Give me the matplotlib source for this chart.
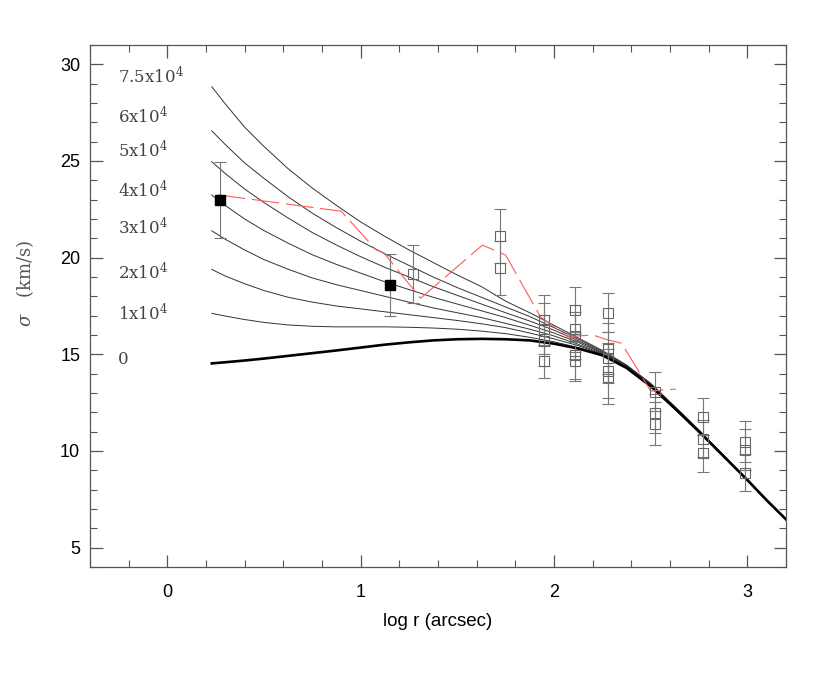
import numpy as np
import matplotlib
matplotlib.use("Agg")
import matplotlib.pyplot as plt
from matplotlib.ticker import MultipleLocator

# model curves
model_x = [0.23, 0.3, 0.4, 0.5, 0.625, 0.75, 0.875, 1.0, 1.125, 1.25, 1.375, 1.5, 1.625,
           1.75, 1.875, 2.0, 2.125, 2.25, 2.375, 2.5, 2.625, 2.75, 2.875, 3.0, 3.1, 3.2]
model_labels = ["7.5x10$^4$", "6x10$^4$", "5x10$^4$", "4x10$^4$",
                "3x10$^4$", "2x10$^4$", "1x10$^4$", "0"]
sig_75e4 = [28.84, 27.95, 26.75, 25.75, 24.6, 23.6, 22.7, 21.85, 21.1, 20.4, 19.75, 19.1, 18.5,
            17.75, 17.15, 16.5, 15.85, 15.2, 14.45, 13.5, 12.3, 11.08, 9.8, 8.52, 7.47, 6.48]
sig_6e4 = [26.56, 25.85, 24.9, 24.1, 23.15, 22.3, 21.55, 20.85, 20.2, 19.6, 19.0, 18.45, 17.95,
           17.45, 16.95, 16.38, 15.78, 15.15, 14.42, 13.48, 12.28, 11.07, 9.79, 8.52, 7.47, 6.48]
sig_5e4 = [24.96, 24.35, 23.55, 22.85, 22.05, 21.3, 20.65, 20.05, 19.5, 19.0, 18.5, 18.05, 17.6,
           17.15, 16.72, 16.25, 15.7, 15.1, 14.4, 13.45, 12.26, 11.06, 9.78, 8.51, 7.46, 6.47]
sig_4e4 = [23.24, 22.7, 22.0, 21.4, 20.75, 20.15, 19.65, 19.2, 18.75, 18.35, 17.95, 17.6, 17.25,
           16.9, 16.5, 16.1, 15.62, 15.07, 14.38, 13.42, 12.25, 11.05, 9.78, 8.51, 7.46, 6.47]
sig_3e4 = [21.39, 20.95, 20.4, 19.9, 19.4, 18.95, 18.6, 18.3, 18.0, 17.7, 17.4, 17.15, 16.9,
           16.6, 16.3, 15.95, 15.52, 15.03, 14.36, 13.4, 12.24, 11.04, 9.77, 8.51, 7.46, 6.47]
sig_2e4 = [19.39, 19.05, 18.65, 18.3, 17.95, 17.7, 17.5, 17.35, 17.2, 17.05, 16.9, 16.75, 16.58,
           16.38, 16.1, 15.8, 15.45, 15.0, 14.34, 13.38, 12.22, 11.02, 9.76, 8.5, 7.45, 6.46]
sig_1e4 = [17.12, 16.98, 16.8, 16.65, 16.52, 16.45, 16.42, 16.42, 16.42, 16.4, 16.36, 16.3, 16.2,
           16.07, 15.88, 15.65, 15.35, 14.97, 14.32, 13.37, 12.21, 11.01, 9.75, 8.5, 7.45, 6.46]
sig_0 = [14.53, 14.59, 14.68, 14.78, 14.92, 15.06, 15.2, 15.35, 15.5, 15.62, 15.72, 15.78, 15.8,
         15.78, 15.72, 15.55, 15.3, 14.95, 14.3, 13.35, 12.2, 11.0, 9.75, 8.5, 7.45, 6.46]
model_sigma = [sig_75e4, sig_6e4, sig_5e4, sig_4e4, sig_3e4, sig_2e4, sig_1e4, sig_0]
label_y = [29.02, 26.98, 25.19, 23.15, 21.2, 18.88, 16.77, 14.5]

# filled points
fill_x = [0.27, 1.15]
fill_y = [22.98, 18.58]
fill_err = [1.97, 1.6]

# open points
open_x = [1.27, 1.72, 1.72,
          1.95, 1.95, 1.95, 1.95,
          2.11, 2.11, 2.11, 2.11, 2.11,
          2.28, 2.28, 2.28, 2.28, 2.28,
          2.52, 2.52, 2.52,
          2.77, 2.77, 2.77,
          2.99, 2.99, 2.99]
open_y = [19.14, 21.12, 19.48,
          16.75, 16.33, 15.71, 14.63,
          17.27, 16.33, 15.97, 14.94, 14.63,
          17.16, 15.3, 14.83, 14.16, 13.85,
          13.07, 11.94, 11.42,
          11.78, 10.64, 9.87,
          10.49, 10.07, 8.88]
open_err = [1.5, 1.4, 1.4,
            1.3, 1.3, 1.3, 0.85,
            1.2, 1.2, 1.2, 1.2, 1.0,
            1.0, 1.3, 1.3, 1.4, 1.4,
            1.0, 1.0, 1.1,
            0.95, 0.95, 0.95,
            1.05, 1.05, 0.95]

# red dashed profile
red_x = [0.26, 0.90, 1.08, 1.12, 1.31, 1.63, 1.75, 1.93, 2.07, 2.20, 2.27, 2.35, 2.50, 2.63]
red_y = [23.25, 22.4, 20.4, 20.25, 17.9, 20.65, 20.13, 16.94, 15.91, 16.0, 15.77, 15.57, 13.1, 13.2]

plt.rcParams['mathtext.fontset'] = 'dejavuserif'

fig = plt.figure(figsize=(8.3, 6.86), dpi=100)
ax = fig.add_axes([0.1084, 0.1735, 0.8386, 0.7609])

for i, s in enumerate(model_sigma):
    if model_labels[i] == "0":
        ax.plot(model_x, s, color='black', lw=1.9, zorder=3)
    else:
        ax.plot(model_x, s, color='#333333', lw=0.7, zorder=2)
    ax.text(-0.257, label_y[i], model_labels[i], family='DejaVu Serif',
            fontsize=12, color='#444444', va='baseline', ha='left')

ax.errorbar(open_x, open_y, yerr=open_err, fmt='s', mfc='none', mec='#666666',
            ms=7, mew=0.8, ecolor='#777777', elinewidth=0.8, capsize=4.5,
            capthick=0.8, zorder=4)
ax.errorbar(fill_x, fill_y, yerr=fill_err, fmt='s', mfc='black', mec='black',
            ms=6.5, ecolor='#777777', elinewidth=0.8, capsize=4.5,
            capthick=0.8, zorder=5)

red, = ax.plot(red_x, red_y, color='#ff5a5a', lw=0.8, zorder=3)
red.set_dashes([25, 6])

ax.set_xlim(-0.4, 3.2)
ax.set_ylim(4, 31)
ax.xaxis.set_major_locator(MultipleLocator(1))
ax.xaxis.set_minor_locator(MultipleLocator(0.2))
ax.yaxis.set_major_locator(MultipleLocator(5))
ax.yaxis.set_minor_locator(MultipleLocator(1))
ax.tick_params(which='both', direction='in', top=True, right=True, color='#555555')
ax.tick_params(which='major', length=9, width=0.9, labelsize=13, pad=7)
ax.tick_params(axis='x', which='major', pad=12)
ax.tick_params(which='minor', length=5, width=0.8)
for lab in ax.get_xticklabels() + ax.get_yticklabels():
    lab.set_family('Liberation Sans')
for sp in ax.spines.values():
    sp.set_color('#555555')
    sp.set_linewidth(0.9)

ax.set_xlabel('log r (arcsec)', family='Liberation Sans', fontsize=13.5, labelpad=9)
fig.text(0.030, 1 - 283 / 686, r'$\sigma$   (km/s)', rotation=90, family='DejaVu Serif',
         fontsize=13, color='#555555', ha='center', va='center')

fig.savefig('out.png', dpi=100)
